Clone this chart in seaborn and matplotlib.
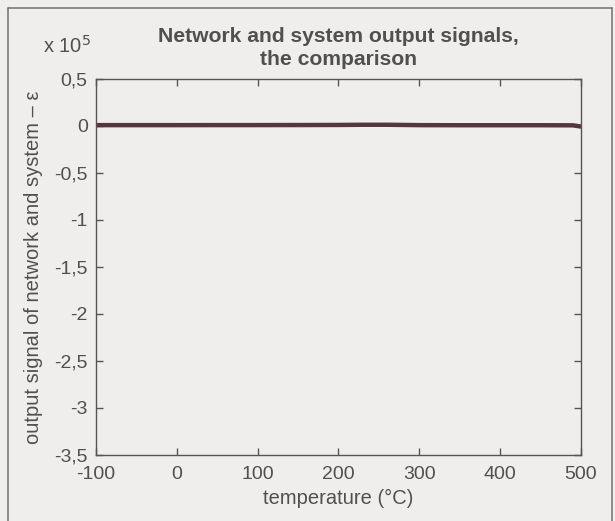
import matplotlib
matplotlib.use("Agg")
import matplotlib.pyplot as plt
from matplotlib.lines import Line2D
from matplotlib.ticker import FuncFormatter
import numpy as np
import pandas as pd
import seaborn as sns

# data (epsilon in raw units, axis shows x 10^5)
temperature = [-100, -50, 0, 50, 100, 150, 200, 230, 260, 300, 350, 400, 450, 490, 500]
epsilon = [900, 900, 900, 950, 950, 1000, 1100, 1300, 1300, 900, 800, 800, 800, 700, -600]

x_ticks = [-100, 0, 100, 200, 300, 400, 500]
y_ticks = [50000, 0, -50000, -100000, -150000, -200000, -250000, -300000, -350000]

sns.set_theme(style="ticks")
plt.rcParams["font.family"] = ["Liberation Sans", "DejaVu Sans"]
plt.rcParams["axes.unicode_minus"] = False

text_col = "#505050"
line_col = "#553640"
paper = "#f0eeed"

df = pd.DataFrame({"temperature": temperature, "epsilon": epsilon})

fig = plt.figure(figsize=(6.15, 5.21), dpi=100, facecolor=paper)
ax = fig.add_axes([0.1561, 0.1267, 0.7886, 0.7217])
ax.set_facecolor(paper)

sns.lineplot(data=df, x="temperature", y="epsilon", ax=ax,
             color=line_col, linewidth=3.2, legend=False)

ax.set_xlim(-100, 500)
ax.set_ylim(-350000, 50000)
ax.set_xticks(x_ticks)
ax.set_yticks(y_ticks)


def fmt(v, pos):
    s = f"{v / 1e5:g}".replace(".", ",")
    return s


ax.yaxis.set_major_formatter(FuncFormatter(fmt))
ax.tick_params(direction="in", length=5, width=1, colors="#555555",
               labelcolor=text_col, labelsize=14, top=True, right=True)
ax.tick_params(axis="x", pad=8)
ax.tick_params(axis="y", pad=6)
for sp in ax.spines.values():
    sp.set_color("#555555")
    sp.set_linewidth(1)
    sp.set_visible(True)

ax.set_xlabel("temperature (\u00b0C)", fontsize=14.5, color=text_col, labelpad=4)
ax.set_ylabel("output signal of network and system \u2013 \u03b5", fontsize=14.5,
              color=text_col, labelpad=8)

fig.text(0.55, 0.908, "Network and system output signals,\nthe comparison",
         ha="center", va="center", fontsize=15.2, fontweight="bold",
         color=text_col, linespacing=1.25)
fig.text(0.07, 0.912, r"x 10$^{5}$", ha="left", va="center",
         fontsize=14.5, color=text_col)

# frame of the scanned page
for xs, ys in [([8 / 615, 8 / 615], [0, 1 - 8 / 521]),
               ([8 / 615, 612 / 615], [1 - 8 / 521, 1 - 8 / 521]),
               ([612 / 615, 612 / 615], [0, 1 - 8 / 521])]:
    fig.add_artist(Line2D(xs, ys, color="#707070", linewidth=1.1))

fig.savefig("out.png", dpi=100, facecolor=paper)
